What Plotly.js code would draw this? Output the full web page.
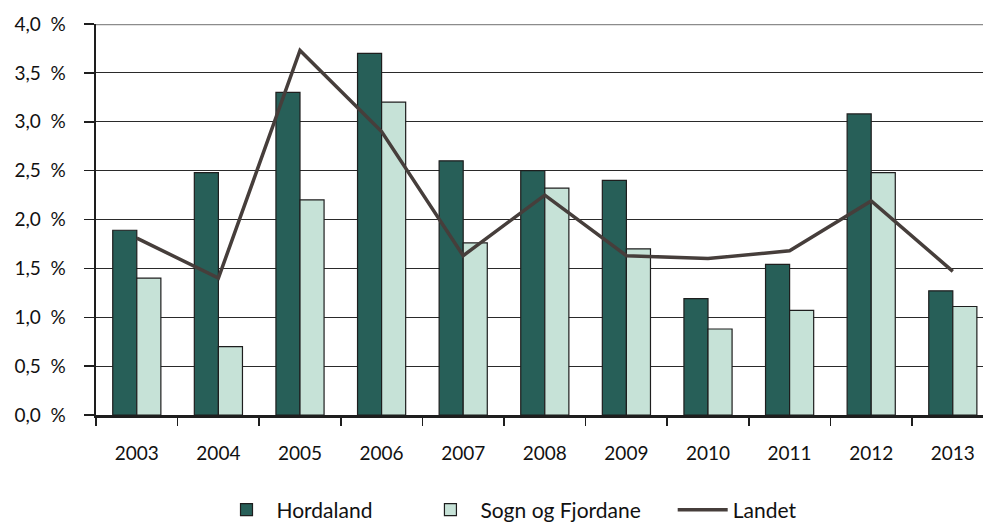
<!DOCTYPE html>
<html>
<head>
<meta charset="utf-8">
<script src="https://cdn.plot.ly/plotly-3.0.1.min.js"></script>
<style>
  html, body { margin: 0; padding: 0; background: #fff; }
  #chart { width: 983px; height: 523px; }
</style>
</head>
<body>
<div id="chart"></div>
<script>
// Data (percent)
const years = ['2003', '2004', '2005', '2006', '2007', '2008', '2009', '2010', '2011', '2012', '2013'];
const hordaland = [1.89, 2.48, 3.30, 3.70, 2.60, 2.50, 2.40, 1.19, 1.54, 3.08, 1.27];
const sognFjordane = [1.40, 0.70, 2.20, 3.20, 1.76, 2.32, 1.70, 0.88, 1.07, 2.48, 1.11];
const landet = [1.81, 1.40, 3.73, 2.90, 1.63, 2.25, 1.63, 1.60, 1.68, 2.19, 1.47];
const yTicks = [0, 0.5, 1, 1.5, 2, 2.5, 3, 3.5, 4];
const yTickText = yTicks.map(v => v.toFixed(1).replace('.', ',') + '\u00a0\u00a0%');

// a little extra room after the legend entries, as in the original
const pad = n => '\u00a0'.repeat(n);

function drawChart() {
  const font = { family: 'Lato, "Open Sans", sans-serif', size: 19, color: '#111' };

  const data = [
    {
      type: 'bar',
      name: 'Hordaland' + pad(8),
      x: years,
      y: hordaland,
      marker: { color: '#275f58', line: { color: '#1e1e1e', width: 1.2 } }
    },
    {
      type: 'bar',
      name: 'Sogn og Fjordane' + pad(5),
      x: years,
      y: sognFjordane,
      marker: { color: '#c6e2d7', line: { color: '#1e1e1e', width: 1.2 } }
    },
    {
      type: 'scatter',
      mode: 'lines',
      name: 'Landet',
      x: years,
      y: landet,
      line: { color: '#463e3b', width: 3.5 }
    }
  ];

  const layout = {
    width: 983,
    height: 523,
    margin: { l: 96, r: 0, t: 24, b: 108, autoexpand: false },
    paper_bgcolor: '#fff',
    plot_bgcolor: '#fff',
    font: font,
    barmode: 'group',
    bargap: 0.41,
    bargroupgap: 0,
    showlegend: true,
    legend: {
      orientation: 'h',
      x: (509 - 96) / 887,
      xanchor: 'center',
      y: -0.243,
      yanchor: 'middle',
      font: { family: font.family, size: 21, color: '#111' },
      itemwidth: 50,
      tracegroupgap: 0,
      traceorder: 'normal'
    },
    xaxis: {
      type: 'category',
      range: [-0.5, 10.37],
      showline: true,
      linecolor: '#1e1e1e',
      linewidth: 2.5,
      ticks: 'outside',
      tickson: 'boundaries',
      ticklen: 8,
      tickwidth: 1.5,
      tickcolor: '#1e1e1e',
      ticklabelstandoff: 20,
      showgrid: false,
      zeroline: false,
      fixedrange: true
    },
    yaxis: {
      range: [0, 4],
      tickvals: yTicks,
      ticktext: yTickText,
      showline: true,
      linecolor: '#1e1e1e',
      linewidth: 2.5,
      ticks: 'outside',
      ticklen: 10,
      tickwidth: 1.5,
      tickcolor: '#1e1e1e',
      ticklabelstandoff: 14,
      showgrid: true,
      gridcolor: '#2a2a2a',
      gridwidth: 1.2,
      zeroline: false,
      fixedrange: true
    },
    shapes: [
      {
        type: 'line', xref: 'paper', x0: 0, x1: 1, yref: 'y', y0: 4, y1: 4,
        line: { color: '#8c8c8c', width: 2.5 }
      }
    ]
  };

  Plotly.newPlot('chart', data, layout, { displayModeBar: false, staticPlot: true });
}

document.addEventListener('DOMContentLoaded', drawChart);
</script>
</body>
</html>
